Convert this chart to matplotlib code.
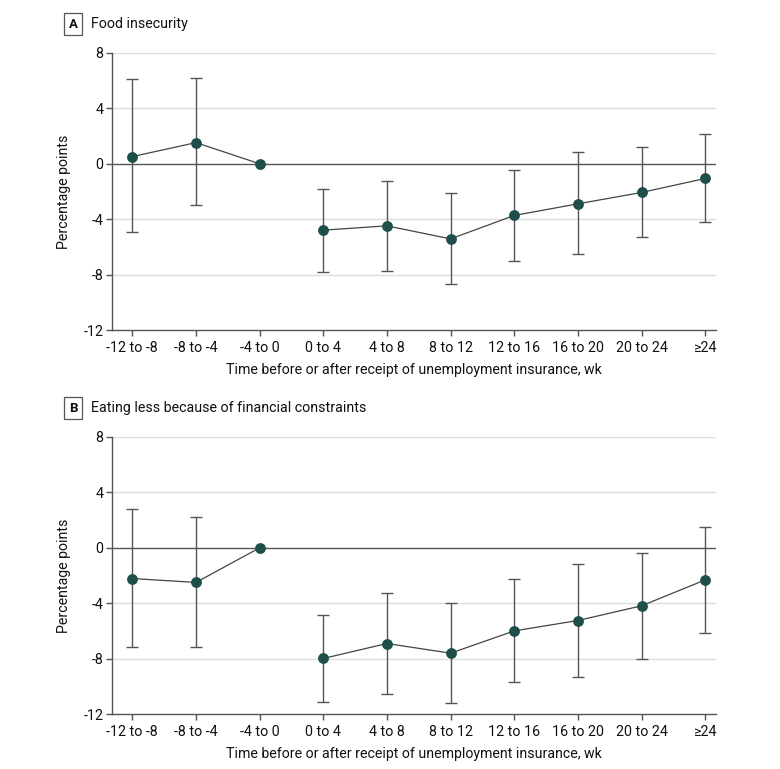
import matplotlib
matplotlib.use("Agg")
import matplotlib.pyplot as plt
from matplotlib import font_manager as fm

names = {f.name for f in fm.fontManager.ttflist}
fam = ["Liberation Sans Narrow"] if "Liberation Sans Narrow" in names else ["Roboto"]
plt.rcParams['font.family'] = fam + ["DejaVu Sans"]

categories = ["-12 to -8", "-8 to -4", "-4 to 0", "0 to 4", "4 to 8", "8 to 12",
              "12 to 16", "16 to 20", "20 to 24", "≥24"]

food_est = [0.52, 1.53, 0.0, -4.79, -4.48, -5.42, -3.73, -2.89, -2.07, -1.06]
food_lo = [-4.95, -2.98, None, -7.79, -7.72, -8.7, -7.02, -6.48, -5.26, -4.2]
food_hi = [6.1, 6.17, None, -1.81, -1.24, -2.09, -0.45, 0.85, 1.24, 2.18]

eat_est = [-2.22, -2.5, 0.0, -7.99, -6.91, -7.61, -6.0, -5.25, -4.19, -2.32]
eat_lo = [-7.19, -7.14, None, -11.1, -10.56, -11.24, -9.7, -9.34, -8.03, -6.16]
eat_hi = [2.79, 2.22, None, -4.85, -3.23, -3.98, -2.22, -1.15, -0.4, 1.5]

# index where the post-receipt series begins (lines are not joined across it)
post_start = 3

yticks = [-12, -8, -4, 0, 4, 8]
xlabel = "Time before or after receipt of unemployment insurance, wk"
ylabel = "Percentage points"
panels = [("A", "Food insecurity", food_est, food_lo, food_hi),
          ("B", "Eating less because of financial constraints", eat_est, eat_lo, eat_hi)]

W, H = 780, 769
fig = plt.figure(figsize=(W / 100, H / 100), dpi=100)

axes_px = [(112, 716, 53, 330), (112, 716, 437, 714)]
title_y = [24, 408]

marker_c = "#1f4f4b"
grey = "#555555"

for (letter, title, est, lo, hi), (l, r, t, b), ty in zip(panels, axes_px, title_y):
    ax = fig.add_axes([l / W, 1 - b / H, (r - l) / W, (b - t) / H])
    x = list(range(len(categories)))
    for xi, e, a, c in zip(x, est, lo, hi):
        if a is None:
            continue
        ax.errorbar([xi], [e], yerr=[[e - a], [c - e]], fmt="none", ecolor=grey,
                    elinewidth=1.0, capsize=4, capthick=1.0, zorder=3)
    ax.plot(x[:post_start], est[:post_start], color="#444444", lw=0.9, zorder=4)
    ax.plot(x[post_start:], est[post_start:], color="#444444", lw=0.9, zorder=4)
    ax.plot(x, est, "o", ms=7.8, color=marker_c, mec=marker_c, mew=0, zorder=5)
    ax.set_xlim(-0.32, 9.17)
    ax.set_ylim(-12, 8)
    ax.set_yticks(yticks)
    ax.set_yticklabels([str(v) for v in yticks])
    ax.set_xticks(x)
    ax.set_xticklabels(categories)
    for v in [-8, -4, 4, 8]:
        ax.axhline(v, color="#dedede", lw=1.0, zorder=1)
    ax.axhline(0, color="#555555", lw=1.0, zorder=2)
    for s in ["top", "right"]:
        ax.spines[s].set_visible(False)
    for s in ["left", "bottom"]:
        ax.spines[s].set_color(grey)
        ax.spines[s].set_linewidth(1.0)
    ax.tick_params(axis="both", direction="out", length=4, width=1.0, color=grey,
                   labelsize=10.3, labelcolor="#111111")
    ax.tick_params(axis="x", pad=4)
    ax.tick_params(axis="y", pad=2)
    ax.set_ylabel(ylabel, fontsize=10.2, color="#111111", labelpad=9)
    ax.set_xlabel(xlabel, fontsize=10.2, color="#111111", labelpad=6)
    fig.text(73 / W, 1 - ty / H, letter, fontsize=9.5, fontweight="bold",
             ha="center", va="center", color="#111111",
             bbox=dict(boxstyle="square,pad=0.35", fc="white", ec="#555555", lw=0.9))
    fig.text(91 / W, 1 - ty / H, title, fontsize=10.3, ha="left", va="center",
             color="#111111")

fig.savefig("out.png", dpi=100)
